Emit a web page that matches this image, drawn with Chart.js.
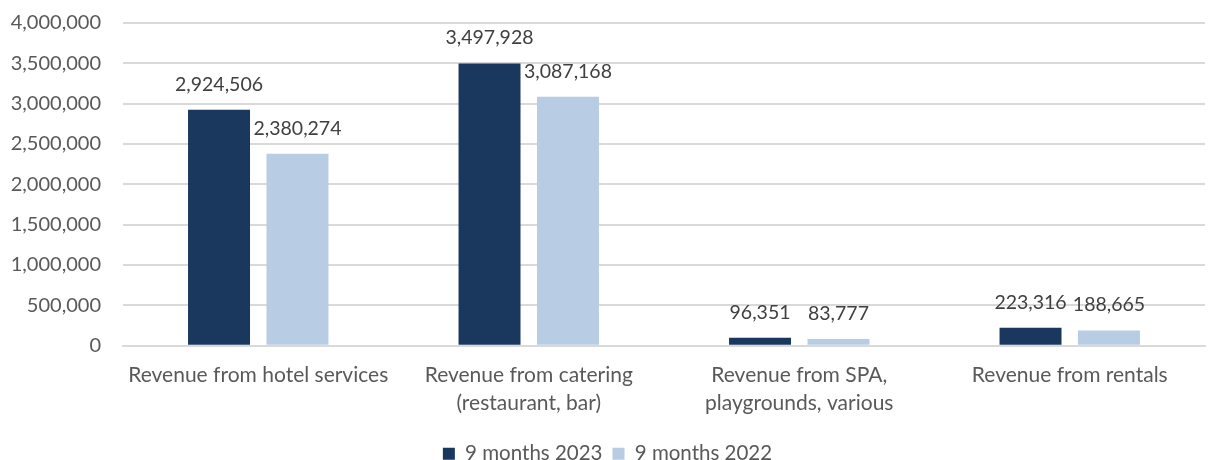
<!DOCTYPE html>
<html lang="en">
<head>
    <meta charset="UTF-8">
    <title>Revenue</title>
    <script src="https://cdn.jsdelivr.net/npm/chart.js"></script>
    <style>
        html, body { margin: 0; padding: 0; background: #fff; overflow: hidden; }
        #wrap { width: 1208px; height: 471px; margin-top: -11px; }
    </style>
</head>
<body>
    <div id="wrap"><canvas id="revChart"></canvas></div>
    <script>
        const categories = [
            ['Revenue from hotel services'],
            ['Revenue from catering', '(restaurant, bar)'],
            ['Revenue from SPA,', 'playgrounds, various'],
            ['Revenue from rentals']
        ];
        const months2023 = [2924506, 3497928, 96351, 223316];
        const months2022 = [2380274, 3087168, 83777, 188665];
        const seriesNames = ['9 months 2023', '9 months 2022'];

        const fmt = v => v.toLocaleString('en-US');

        // simple value labels above each bar
        const valueLabels = {
            id: 'valueLabels',
            afterDatasetsDraw(chart) {
                const ctx = chart.ctx;
                ctx.save();
                ctx.font = '19.5px Lato';
                ctx.fillStyle = '#404040';
                ctx.textAlign = 'center';
                ctx.textBaseline = 'alphabetic';
                chart.data.datasets.forEach((ds, i) => {
                    chart.getDatasetMeta(i).data.forEach((bar, j) => {
                        ctx.fillText(fmt(ds.data[j]), bar.x, bar.y - 19);
                    });
                });
                ctx.restore();
            }
        };

        new Chart(document.getElementById('revChart'), {
            type: 'bar',
            data: {
                labels: categories,
                datasets: [
                    { label: seriesNames[0], data: months2023, backgroundColor: '#1A375E',
                      categoryPercentage: 0.58, barPercentage: 0.79 },
                    { label: seriesNames[1], data: months2022, backgroundColor: '#B8CCE4',
                      categoryPercentage: 0.58, barPercentage: 0.79 }
                ]
            },
            options: {
                responsive: true,
                maintainAspectRatio: false,
                animation: false,
                layout: { padding: { top: 0, right: 3, left: 10, bottom: -14 } },
                plugins: {
                    tooltip: { enabled: false },
                    legend: {
                        position: 'bottom',
                        labels: {
                            font: { family: 'Lato', size: 20.5 },
                            color: '#595959',
                            boxWidth: 12,
                            boxHeight: 12,
                            padding: 10
                        }
                    }
                },
                scales: {
                    x: {
                        grid: { display: false, drawTicks: false },
                        border: { color: '#D9D9D9', width: 2 },
                        ticks: {
                            font: { family: 'Lato', size: 21, lineHeight: 1.33 },
                            color: '#595959',
                            padding: 16,
                            maxRotation: 0
                        }
                    },
                    y: {
                        min: 0,
                        max: 4000000,
                        afterFit: s => { s.width = 113; },
                        ticks: {
                            stepSize: 500000,
                            font: { family: 'Lato', size: 20 },
                            color: '#595959',
                            padding: 22,
                            callback: v => fmt(v)
                        },
                        grid: { color: '#D9D9D9', lineWidth: 2, drawTicks: false },
                        border: { display: false }
                    }
                }
            },
            plugins: [valueLabels]
        });
    </script>
</body>
</html>
